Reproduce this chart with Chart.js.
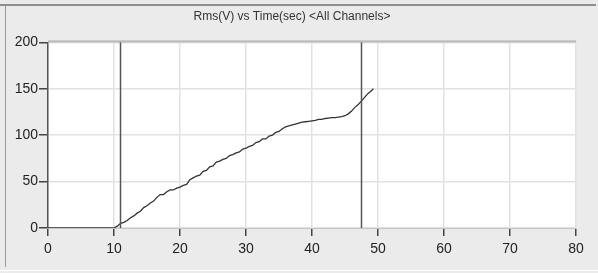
<!DOCTYPE html>
<html>
<head>
<meta charset="utf-8">
<script src="https://cdn.jsdelivr.net/npm/chart.js@4/dist/chart.umd.min.js"></script>
<style>
  html, body { margin: 0; padding: 0; background: #ebebeb; }
  #wrap { width: 598px; height: 273px; position: relative; }
</style>
</head>
<body>
<div id="wrap"><canvas id="chart"></canvas></div>
<script>
const titleText = 'Rms(V) vs Time(sec) <All Channels>';

const timeSec = [
  0, 10, 10.5, 11, 11.5, 12, 12.5, 13, 13.5, 14, 14.5, 15, 15.5, 16, 16.5, 17, 17.5, 18, 18.5, 19, 19.5,
  20, 20.5, 21, 21.5, 22, 22.5, 23, 23.5, 24, 24.5, 25, 25.5, 26, 26.5, 27, 27.5, 28, 28.5, 29, 29.5,
  30, 30.5, 31, 31.5, 32, 32.5, 33, 33.5, 34, 34.5, 35, 35.5, 36, 36.5, 37, 37.5, 38, 38.5, 39, 39.5,
  40, 40.5, 41, 41.5, 42, 42.5, 43, 43.5, 44, 44.5, 45, 45.5, 46, 46.5, 47, 47.5, 48, 48.5, 49, 49.3
];
const rmsVolts = [
  0, 0, 2, 5, 6, 8, 11, 13, 16, 18, 22, 24, 27, 29, 33, 36, 36, 39, 41, 41, 43,
  44, 46, 47, 52, 54, 56, 57, 61, 62, 66, 67, 71, 72, 74, 75, 78, 79, 81, 82, 85,
  86, 88, 89, 92, 93, 96, 96, 99, 100, 103, 104, 107, 109, 110, 111, 112, 113, 114, 114.5, 115,
  115.5, 116, 117, 117, 118, 118.5, 119, 119, 119.5, 120, 121, 123, 126, 130, 133, 137, 141, 145, 148, 150
];

const cursorTimes = [10.9, 47.4];
const xTickValues = [0, 10, 20, 30, 40, 50, 60, 70, 80];
const yTickValues = [0, 50, 100, 150, 200];

const labelFont = { family: 'Liberation Sans', size: 14 };

const panelPlugin = {
  id: 'panel',
  beforeDraw(chart) {
    const { ctx, chartArea: a } = chart;
    ctx.save();
    ctx.fillStyle = '#ebebeb';
    ctx.fillRect(0, 0, chart.width, chart.height);
    ctx.fillStyle = '#8e8e8e';
    ctx.fillRect(0, 4, 596, 2);
    ctx.fillStyle = '#9a9a9a';
    ctx.fillRect(5, 6, 1, 261);
    ctx.fillStyle = '#ffffff';
    ctx.fillRect(0, 270, 598, 1);
    ctx.fillRect(a.left, a.top, a.right - a.left, a.bottom - a.top);
    ctx.restore();
  },
  afterDatasetsDraw(chart) {
    const { ctx, chartArea: a, scales } = chart;
    ctx.save();
    ctx.fillStyle = '#b8b8b8';
    ctx.fillRect(a.left, a.top - 2, a.right - a.left, 2);
    ctx.strokeStyle = '#555555';
    ctx.lineWidth = 1.5;
    cursorTimes.forEach((t) => {
      const px = Math.round(scales.x.getPixelForValue(t)) + 0.5;
      ctx.beginPath();
      ctx.moveTo(px, a.top);
      ctx.lineTo(px, a.bottom);
      ctx.stroke();
    });
    ctx.restore();
  }
};

new Chart(document.getElementById('chart'), {
  type: 'scatter',
  data: {
    datasets: [
      {
        label: 'Rms(V)',
        data: timeSec.map((t, i) => ({ x: t, y: rmsVolts[i] })),
        showLine: true,
        borderColor: '#333333',
        borderWidth: 1.3,
        pointRadius: 0,
        tension: 0
      }
    ]
  },
  options: {
    responsive: true,
    maintainAspectRatio: false,
    animation: false,
    layout: {
      padding: { left: 8, right: 22, top: 0, bottom: 0 }
    },
    plugins: {
      legend: { display: false },
      tooltip: { enabled: false },
      title: {
        display: true,
        text: titleText,
        color: '#333333',
        font: { family: 'Liberation Sans', size: 12, weight: 'normal' },
        padding: { top: 9, bottom: 19 }
      }
    },
    scales: {
      x: {
        type: 'linear',
        min: 0,
        max: 80,
        afterBuildTicks: (scale) => {
          scale.ticks = xTickValues.map((v) => ({ value: v }));
        },
        afterFit: (scale) => {
          scale.height = 45;
        },
        ticks: {
          color: '#222222',
          padding: 5,
          maxRotation: 0,
          font: labelFont
        },
        grid: {
          color: '#e2e2e2',
          lineWidth: 1.5,
          tickColor: '#444444',
          tickLength: 8,
          tickWidth: 1.5
        },
        border: { color: '#c4c4c4', width: 1 }
      },
      y: {
        type: 'linear',
        min: 0,
        max: 200,
        afterBuildTicks: (scale) => {
          scale.ticks = yTickValues.map((v) => ({ value: v }));
        },
        afterFit: (scale) => {
          scale.width = 40;
        },
        ticks: {
          color: '#222222',
          padding: 1,
          font: labelFont
        },
        grid: {
          color: '#e2e2e2',
          lineWidth: 1.5,
          tickColor: '#444444',
          tickLength: 9,
          tickWidth: 1.5
        },
        border: { color: '#555555', width: 1.5 }
      }
    }
  },
  plugins: [panelPlugin]
});
</script>
</body>
</html>
